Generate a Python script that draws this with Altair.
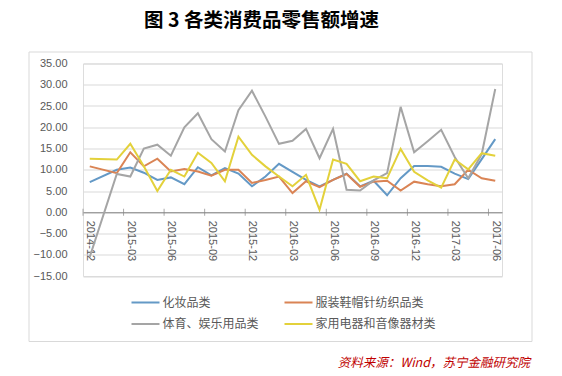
import altair as alt
import pandas as pd

months = ["2014-12", "2015-01", "2015-02", "2015-03", "2015-04", "2015-05", "2015-06",
          "2015-07", "2015-08", "2015-09", "2015-10", "2015-11", "2015-12",
          "2016-01", "2016-02", "2016-03", "2016-04", "2016-05", "2016-06",
          "2016-07", "2016-08", "2016-09", "2016-10", "2016-11", "2016-12",
          "2017-01", "2017-02", "2017-03", "2017-04", "2017-05", "2017-06"]

names = ["化妆品类", "服装鞋帽针纺织品类", "体育、娱乐用品类", "家用电器和音像器材类"]
colors = ["#6499C6", "#DA8455", "#A5A5A5", "#E3D13B"]

cosmetics = [7.1, None, 10.0, 10.5, 9.3, 7.6, 8.2, 6.6, 10.6, 8.7, 10.4, 9.1, 6.1,
             8.4, 11.4, 9.5, 7.6, 6.1, 7.6, 9.1, 6.1, 7.4, 4.0, 8.0, 10.9, 10.9,
             10.7, 9.1, 7.8, 12.5, 17.2]
clothing = [10.8, None, 9.2, 14.1, 10.8, 12.6, 9.6, 10.2, 9.6, 8.6, 10.0, 10.0, 6.9,
            7.6, 8.4, 4.5, 7.3, 5.9, 7.6, 9.0, 6.0, 7.2, 7.4, 5.1, 7.2, 6.6,
            6.1, 6.6, 10.0, 8.0, 7.4]
sports = [-10.5, None, 9.0, 8.4, 15.0, 15.9, 13.3, 20.0, 23.3, 17.2, 14.3, 24.0, 28.6,
          22.5, 16.1, 16.8, 19.6, 12.7, 19.6, 5.3, 5.1, 7.5, 9.2, 24.8, 14.1, 16.7,
          19.4, 13.0, 8.0, 13.7, 29.0]
appliances = [12.6, None, 12.4, 16.1, 10.8, 5.0, 10.0, 8.4, 14.0, 11.6, 7.3, 17.8, 13.5,
              10.8, 8.4, 6.1, 8.8, 0.6, 12.4, 11.4, 7.3, 8.4, 8.0, 14.9, 9.5, 7.5,
              5.8, 12.4, 10.1, 13.9, 13.3]

rows = []
for name, vals in zip(names, [cosmetics, clothing, sports, appliances]):
    for i, v in enumerate(vals):
        if v is not None:
            rows.append({"i": i, "month": months[i], "series": name, "value": v})
df = pd.DataFrame(rows)

# legend fills column by column: order so rows read as in the reference
legend_order = [0, 2, 1, 3]
dom = [names[k] for k in legend_order]
rng = [colors[k] for k in legend_order]

label_idx = list(range(0, len(months), 3))
label_arr = "[" + ",".join("'%s'" % months[k] for k in label_idx) + "]"
ticks_df = pd.DataFrame({"t": [k - 0.5 for k in label_idx], "zero": [0] * len(label_idx)})

W, H = 419, 212.5
NUM_FONT = "Liberation Sans, Arial, Noto Sans CJK SC"
CJK_FONT = "Noto Sans CJK SC"

xscale = alt.Scale(domain=[-0.5, len(months) - 0.5], nice=False, zero=False)
yscale = alt.Scale(domain=[-15, 35], nice=False)

x_axis = alt.Axis(title=None, orient="bottom", offset=-63.75,
                  values=label_idx, labelExpr=label_arr + "[datum.value/3]",
                  labelAngle=90, labelAlign="left", labelBaseline="middle",
                  labelPadding=8, labelFont=NUM_FONT, labelFontSize=11,
                  labelColor="#595959", ticks=False, grid=False,
                  labelOverlap=False,
                  domain=True, domainColor="#868686", domainWidth=1)
y_axis = alt.Axis(title=None, values=list(range(-15, 40, 5)), format=".2f",
                  labelFont=NUM_FONT, labelFontSize=11, labelColor="#595959",
                  labelPadding=16, ticks=False, domain=False, labelOverlap=False,
                  grid=True, gridColor="#D9D9D9", gridWidth=1)

lines = alt.Chart(df).mark_line(strokeWidth=2).encode(
    x=alt.X("i:Q", scale=xscale, axis=x_axis),
    y=alt.Y("value:Q", scale=yscale, axis=y_axis),
    color=alt.Color("series:N", scale=alt.Scale(domain=dom, range=rng),
                    legend=alt.Legend(title=None, orient="none", legendX=47.5, legendY=229.5,
                                      columns=2, columnPadding=24, rowPadding=2.5,
                                      symbolType="stroke", symbolSize=784,
                                      symbolStrokeWidth=2, clipHeight=19, padding=0,
                                      labelFont=CJK_FONT, labelFontSize=12,
                                      labelColor="#595959", labelOffset=2)),
    order=alt.Order("i:Q"),
)

ticks = alt.Chart(ticks_df).mark_tick(orient="vertical", size=7, thickness=1,
                                      color="#868686").encode(
    x=alt.X("t:Q", scale=xscale, axis=x_axis),
    y=alt.Y("zero:Q", scale=yscale, axis=y_axis),
)

one = pd.DataFrame({"a": [0]})
frame = alt.Chart(one).mark_rect(fillOpacity=0, stroke="#D9D9D9", strokeWidth=1).encode(
    x=alt.value(-54), x2=alt.value(449), y=alt.value(-11.5), y2=alt.value(278)
)
source = alt.Chart(one).mark_text(align="right", baseline="middle", fontStyle="italic",
                                  font=CJK_FONT, fontSize=12.5, color="#C00000").encode(
    x=alt.value(447), y=alt.value(299.5), text=alt.value("资料来源：Wind，苏宁金融研究院")
)

chart = alt.layer(frame, lines, ticks, source).properties(
    width=W, height=H,
    title=alt.TitleParams("图 3  各类消费品零售额增速", font=CJK_FONT, fontSize=19.5,
                          fontWeight="bold", color="#000000", anchor="middle",
                          dx=-31, offset=20, frame="group"),
    autosize=alt.AutoSizeParams(type="none"),
    padding={"left": 83, "top": 63.5, "right": 60, "bottom": 100},
).configure_view(stroke=None).configure(background="white")

chart.save("out.html", embed_options={"renderer": "svg", "actions": False})
